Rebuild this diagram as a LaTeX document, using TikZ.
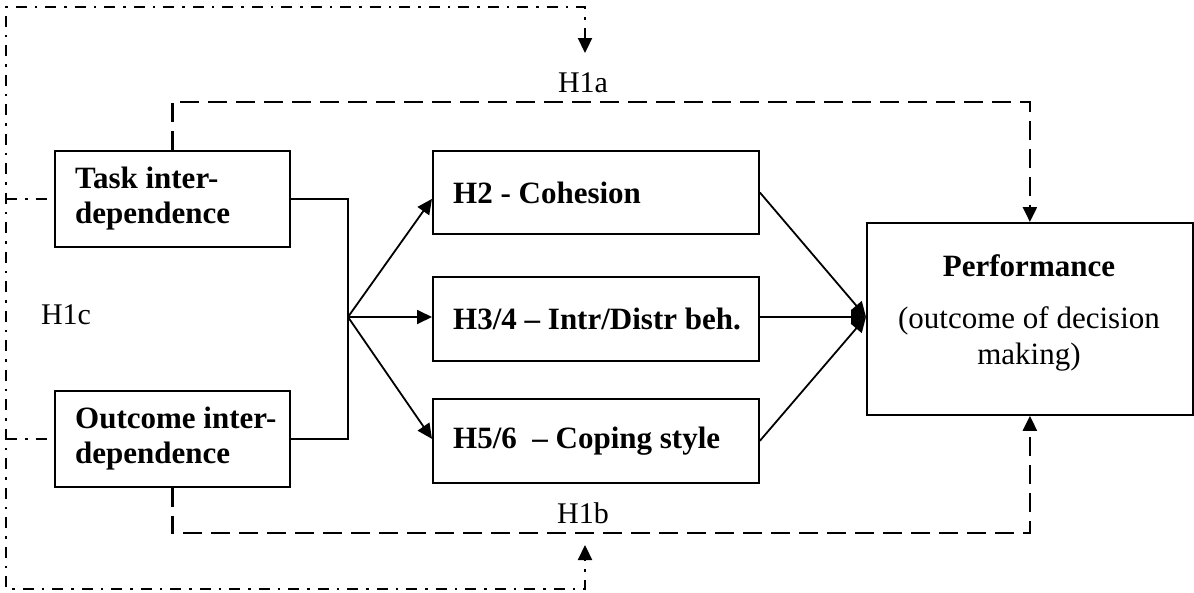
\documentclass[tikz,border=0pt]{standalone}
\usepackage{fontspec}
\setmainfont{Liberation Serif}
\usetikzlibrary{arrows.meta}
\begin{document}
\begin{tikzpicture}[x=1pt,y=-1pt,
  boxnode/.style={draw, line width=1.8pt, inner sep=0pt, anchor=north west},
  boxtext/.style={inner sep=0pt, anchor=west, align=left, font=\fontsize{31}{35}\selectfont\bfseries},
  hlabel/.style={inner sep=0pt, font=\fontsize{30}{34}\selectfont},
  tip/.style={-{Triangle[length=15pt,width=14pt]}},
  solidline/.style={line width=1.8pt},
  dashline/.style={line width=2.3pt, dash pattern=on 19pt off 9pt},
  dashdotline/.style={line width=2.3pt, dash pattern=on 11pt off 8pt on 2.5pt off 8pt}
]
\useasboundingbox (0,0) rectangle (1194,592);

% boxes
\node[boxnode, minimum width=235pt, minimum height=96pt] (task) at (54,150) {};
\node[boxnode, minimum width=235pt, minimum height=96pt] (outcome) at (54,390) {};
\node[boxnode, minimum width=326pt, minimum height=83pt] (h2) at (432,150) {};
\node[boxnode, minimum width=326pt, minimum height=84pt] (h34) at (432,276) {};
\node[boxnode, minimum width=326pt, minimum height=84pt] (h56) at (432,398) {};
\node[boxnode, minimum width=326pt, minimum height=192pt] (perf) at (866,222) {};

% box texts
\node[boxtext] (tasktxt) at ([xshift=21pt]task.west) {Task inter-\\dependence};
\node[boxtext] (outtxt) at ([xshift=21pt]outcome.west) {Outcome inter-\\dependence};
\node[boxtext] (h2txt) at ([xshift=21pt]h2.west) {H2 - Cohesion};
\node[boxtext] (h34txt) at ([xshift=21pt]h34.west) {H3/4 – Intr/Distr beh.};
\node[boxtext] (h56txt) at ([xshift=21pt]h56.west) {H5/6\ \ – Coping style};
\node[inner sep=0pt, anchor=north, align=center, font=\fontsize{31}{36}\selectfont] (perftxt) at (1029,254)
  {\textbf{Performance}\\[16pt](outcome of decision\\making)};

% labels
\node[hlabel] (h1a) at (583,83) {H1a};
\node[hlabel] (h1b) at (583,513) {H1b};
\node[hlabel] (h1c) at (66,315) {H1c};

% solid connectors
\coordinate (br) at (348,317);
\draw[solidline] (task.east) -- (task.east -| br) -- (outcome.east -| br) -- (outcome.east);
\draw[solidline, tip] (br) -- (h2.west |- task.east);
\draw[solidline, tip] (br) -- (h34.west |- br);
\draw[solidline, tip] (br) -- (h56.west |- outcome.east);
\draw[solidline, tip] (h2.east) -- (perf.west |- br);
\draw[solidline, tip] (h34.east |- br) -- (perf.west |- br);
\draw[solidline, tip] (h56.east) -- (perf.west |- br);

% dashed H1a / H1b
\coordinate (ya) at (0,102);
\coordinate (yb) at (0,533);
\draw[dashline, tip] (task.north) -- (task.north |- ya) -- (perf.north |- ya) -- (perf.north);
\draw[dashline, tip] (outcome.south) -- (outcome.south |- yb) -- (perf.south |- yb) -- (perf.south);

% dash-dot H1c
\coordinate (tl) at (6,7);
\coordinate (bl) at (6,589);
\coordinate (atip) at (585,53);
\coordinate (btip) at (585,545);
\draw[dashdotline, {Triangle[length=15pt,width=14pt]}-{Triangle[length=15pt,width=14pt]}]
  (atip) -- (atip |- tl) -- (tl) -- (bl) -- (btip |- bl) -- (btip);
\draw[dashdotline] (task.west -| tl) -- (task.west);
\draw[dashdotline] (outcome.west -| tl) -- (outcome.west);
\end{tikzpicture}
\end{document}
